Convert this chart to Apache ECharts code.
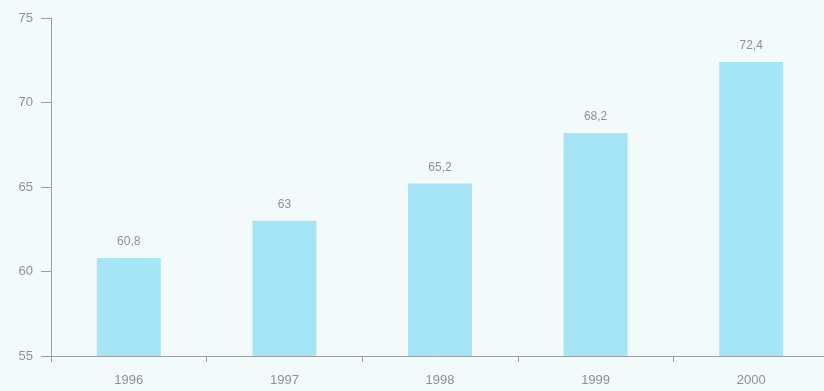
<!DOCTYPE html>
<html>
<head>
<meta charset="utf-8">
<script src="https://cdn.jsdelivr.net/npm/echarts@6/dist/echarts.min.js"></script>
<style>
html,body{margin:0;padding:0;background:#f3fbfa;}
#c{width:824px;height:391px;}
</style>
</head>
<body>
<div id="c"></div>
<script>
var categories = ['1996', '1997', '1998', '1999', '2000'];
var values = [60.8, 63, 65.2, 68.2, 72.4];
var yTicks = [55, 60, 65, 70, 75];

var chart = echarts.init(document.getElementById('c'), null, {renderer: 'canvas'});
var textColor = '#8c9293';
var axisColor = '#9aa0a0';
chart.setOption({
  backgroundColor: '#f3fbfa',
  animation: false,
  grid: {left: 51, width: 778, top: 18, height: 338, containLabel: false, outerBoundsMode: 'none'},
  xAxis: {
    type: 'category',
    data: categories,
    axisLine: {lineStyle: {color: axisColor, width: 1}},
    axisTick: {show: true, length: 6, lineStyle: {color: axisColor}},
    axisLabel: {color: textColor, fontSize: 13, fontFamily: 'Liberation Sans', margin: 18}
  },
  yAxis: {
    type: 'value',
    min: yTicks[0],
    max: yTicks[yTicks.length - 1],
    interval: 5,
    splitLine: {show: false},
    axisLine: {show: true, lineStyle: {color: axisColor, width: 1}},
    axisTick: {show: true, length: 10, lineStyle: {color: axisColor}},
    axisLabel: {color: textColor, fontSize: 13, fontFamily: 'Liberation Sans', margin: 18}
  },
  series: [{
    type: 'bar',
    data: values,
    barWidth: 64,
    itemStyle: {color: '#a6e5f6'},
    label: {
      show: true,
      position: 'top',
      distance: 10,
      color: textColor,
      fontSize: 12,
      fontFamily: 'Liberation Sans',
      formatter: function (p) { return String(p.value).replace('.', ','); }
    }
  }]
});
</script>
</body>
</html>
